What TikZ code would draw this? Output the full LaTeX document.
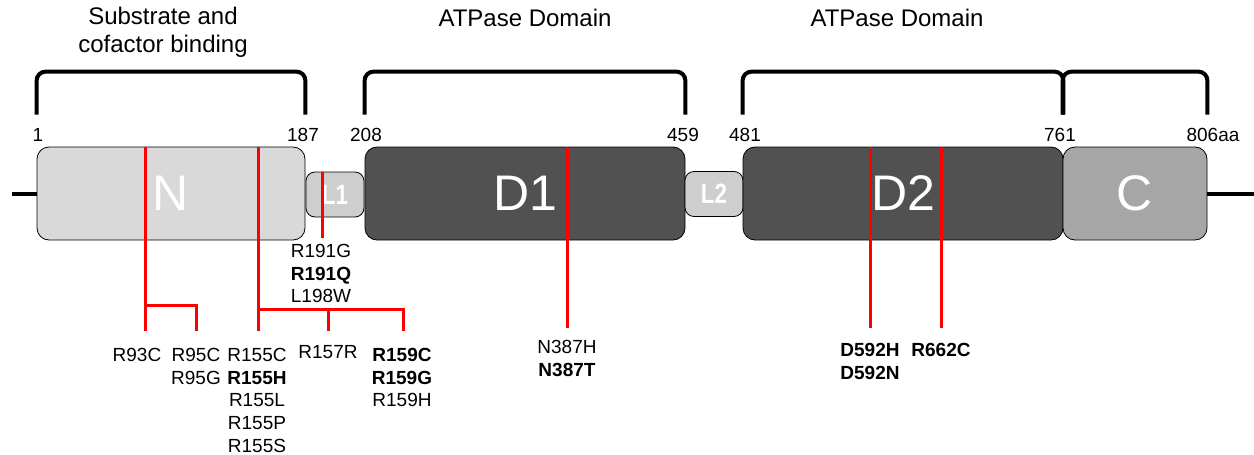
\documentclass[tikz,border=0pt]{standalone}
\usepackage{fontspec}
\setmainfont{Liberation Sans}
\usetikzlibrary{positioning}

\definecolor{ngray}{HTML}{D9D9D9}
\definecolor{lgray}{HTML}{CFCECE}
\definecolor{dgray}{HTML}{515151}
\definecolor{cgray}{HTML}{A6A6A6}

\tikzset{
  dom/.style={draw=black, line width=0.8pt, rounded corners=12pt, minimum height=93pt,
    font=\fontsize{50}{60}\selectfont, text=white, inner sep=0pt},
  lnk/.style={draw=black, line width=0.8pt, rounded corners=9pt, fill=lgray,
    minimum width=58pt, minimum height=45pt, font=\fontsize{28}{32}\bfseries\selectfont,
    text=white, inner sep=0pt},
  brk/.style={line width=4pt, rounded corners=9pt},
  mut/.style={red, line width=3pt},
  aa/.style={font=\fontsize{19}{22}\selectfont, inner sep=0pt},
  lbl/.style={font=\fontsize{19}{22.7}\selectfont, align=center, anchor=north, inner sep=0pt},
  hdr/.style={font=\fontsize{24}{28}\selectfont, align=center, inner sep=0pt},
}

\begin{document}
\begin{tikzpicture}[x=1pt, y=-1pt]
\useasboundingbox (0,0) rectangle (1254,455);

% domains
\node[dom, fill=ngray, minimum width=268pt] (N) at (171,193.5) {N};
\node[lnk] (L1) at (335,194.5) {\scalebox{0.8}[1]{L1}};
\node[dom, fill=dgray, minimum width=320pt] (D1) at (525,193.5) {D1};
\node[lnk] (L2) at (714,194) {\scalebox{0.8}[1]{L2}};
\node[dom, fill=dgray, minimum width=320pt] (D2) at (903,193.5) {D2};
\node[dom, fill=cgray, minimum width=144pt] (C) at (1135,193.5) {C};

\coordinate (s) at (12,193.5);
\coordinate (e) at (1254,193.5);
\draw[line width=4pt] (s) -- (N.west);
\draw[line width=4pt] (C.east) -- (e);

% brackets
\draw[brk] ([yshift=32pt]N.north west) -- ([yshift=75pt]N.north west) -| ([yshift=32pt]N.north east);
\draw[brk] ([yshift=32pt]D1.north west) -- ([yshift=75pt]D1.north west) -| ([yshift=32pt]D1.north east);
\draw[brk] ([yshift=32pt]D2.north west) -- ([yshift=75pt]D2.north west) -| ([yshift=32pt]D2.north east);
\draw[brk] ([yshift=32pt]C.north west) -- ([yshift=75pt]C.north west) -| ([yshift=32pt]C.north east);

\node[hdr] (sub) at (163,32) {Substrate and\\cofactor binding};
\node[hdr] (atp1) at (525,18) {ATPase Domain};
\node[hdr] (atp2) at (897,18) {ATPase Domain};

% residue numbers
\node[aa] (p1) at (38,135) {1};
\node[aa] (p187) at (303,135) {187};
\node[aa] (p208) at (366,135) {208};
\node[aa] (p459) at (683,135) {459};
\node[aa] (p481) at (745,135) {481};
\node[aa] (p761) at (1060,135) {761};
\node[aa] (p806) at (1213,135) {806aa};

% mutations
\node[lbl] (r93) at (137,348) {R93C};
\node[lbl] (r95) at (196,348) {R95C\\R95G};
\node[lbl] (r155) at (257,348) {R155C\\\textbf{R155H}\\R155L\\R155P\\R155S};
\node[lbl] (r157) at (328,345) {R157R};
\node[lbl] (r159) at (402,348) {\textbf{R159C}\\\textbf{R159G}\\R159H};
\node[lbl] (r191) at (321,244) {R191G\\\textbf{R191Q}\\L198W};
\node[lbl] (n387) at (567,340) {N387H\\\textbf{N387T}};
\node[lbl] (d592) at (870,343) {\textbf{D592H}\\\textbf{D592N}};
\node[lbl] (r662) at (941,343) {\textbf{R662C}};

\coordinate (t93) at (145,147);   \coordinate (b93) at (145,331);
\coordinate (j93) at (145,305);   \coordinate (b95) at (196,331);
\coordinate (t155) at (258,147);  \coordinate (b155) at (258,331);
\coordinate (j155) at (258,309);  \coordinate (b159) at (403,331);
\coordinate (j157) at (328,309);  \coordinate (b157) at (328,331);
\coordinate (t191) at (322,172);  \coordinate (b191) at (322,238);
\coordinate (t387) at (567,147);  \coordinate (b387) at (567,328);
\coordinate (t592) at (870,147);  \coordinate (b592) at (870,328);
\coordinate (t662) at (941,147);  \coordinate (b662) at (941,328);

\draw[mut] (t93) -- (b93);
\draw[mut] (j93) -| (b95);
\draw[mut] (t155) -- (b155);
\draw[mut] (j155) -| (b159);
\draw[mut] (j157) -- (b157);
\draw[mut] (t191) -- (b191);
\draw[mut] (t387) -- (b387);
\draw[mut] (t592) -- (b592);
\draw[mut] (t662) -- (b662);
\end{tikzpicture}
\end{document}
